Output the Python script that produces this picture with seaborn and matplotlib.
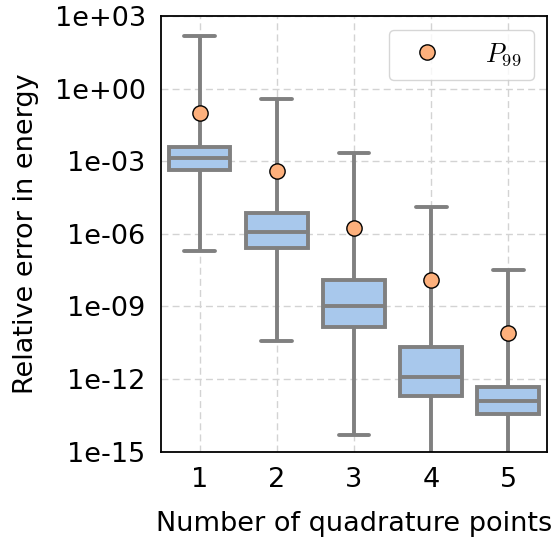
import matplotlib
matplotlib.use("Agg")
import matplotlib.pyplot as plt
import matplotlib.ticker as mticker
import seaborn as sns
import pandas as pd
import numpy as np

# quadrature points and five-number summaries (min, q1, median, q3, max)
n_points = ["1", "2", "3", "4", "5"]
err_min = [1.95e-7, 3.6e-11, 4.6e-15, 1e-17, 1e-17]
err_q1 = [4.5e-4, 2.5e-7, 1.4e-10, 1.9e-13, 3.6e-14]
err_med = [1.4e-3, 1.2e-6, 1.05e-9, 1.2e-12, 1.2e-13]
err_q3 = [4.1e-3, 7.0e-6, 1.2e-8, 2.1e-11, 4.6e-13]
err_max = [148.0, 0.39, 2.3e-3, 1.35e-5, 3.2e-8]
p99 = [1.05e-1, 4.1e-4, 1.8e-6, 1.2e-8, 8.3e-11]

rows = []
for i, n in enumerate(n_points):
    for v in (err_min[i], err_q1[i], err_med[i], err_q3[i], err_max[i]):
        rows.append({"n": n, "err": v})
df = pd.DataFrame(rows)

sns.set_style("white")
plt.rcParams["font.family"] = ["DejaVu Sans"]
plt.rcParams["mathtext.fontset"] = "cm"
for k in ("text.color", "axes.labelcolor", "xtick.color", "ytick.color", "axes.edgecolor"):
    plt.rcParams[k] = "black"

fig = plt.figure(figsize=(5.57, 5.44), dpi=100)
ax = fig.add_axes([0.289, 0.170, 0.693, 0.800])

gray = "#808080"
sns.boxplot(data=df, x="n", y="err", ax=ax, log_scale=True, whis=(0, 100),
            width=0.8, color="#a8c8ec", saturation=1, fliersize=0,
            linecolor=gray, linewidth=2.8)
ax.plot(np.arange(len(n_points)), p99, "o", color="#fdb07c", mec="black",
        mew=1.0, ms=11, ls="none", label="$P_{99}$", zorder=5)

ax.set_ylim(1e-15, 1e3)
ax.set_xlim(-0.5, 4.5)
ax.yaxis.set_major_locator(mticker.FixedLocator([10.0 ** k for k in range(-15, 4, 3)]))
ax.yaxis.set_minor_locator(mticker.NullLocator())
ax.yaxis.set_major_formatter(mticker.FuncFormatter(lambda v, p: f"{v:.0e}"))
ax.grid(True, ls=(0, (5, 3)), color="#d3d3d3", lw=1.0)
ax.set_axisbelow(True)
for s in ax.spines.values():
    s.set_visible(True)
    s.set_linewidth(1.3)
ax.tick_params(axis="both", direction="out", length=6, width=1.3,
               labelsize=19.5, pad=5)
ax.set_xlabel("Number of quadrature points", fontsize=19.5, labelpad=13)
ax.set_ylabel("Relative error in energy", fontsize=19.5, labelpad=11)
ax.legend(loc="upper right", fontsize=19, handletextpad=1.2, borderpad=0.45)

fig.savefig("out.png", dpi=100)
